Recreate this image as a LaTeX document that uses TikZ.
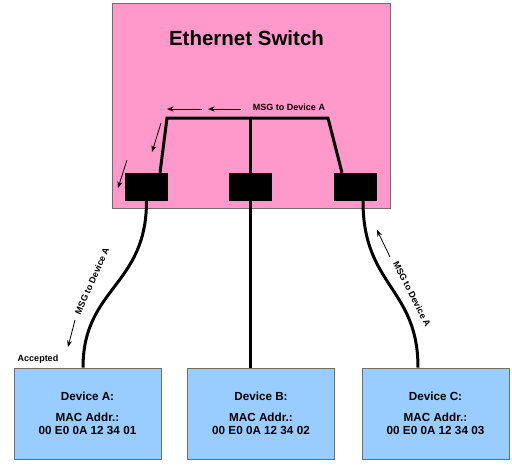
\documentclass[tikz,border=0pt]{standalone}
\usepackage{fontspec}
\setmainfont{Liberation Sans}
\usetikzlibrary{arrows.meta,positioning,calc}
\definecolor{swpink}{HTML}{FF99CC}
\definecolor{devblue}{HTML}{99CCFF}
\definecolor{edgegray}{HTML}{6E6E6E}
\tikzset{
  swbox/.style={
    rectangle, draw=edgegray, fill=swpink, line width=0.8pt,
    minimum width=278pt, minimum height=205pt, inner sep=0pt
  },
  swport/.style={rectangle, fill=black, minimum width=43pt, minimum height=28pt, inner sep=0pt},
  devbox/.style={
    rectangle, draw=edgegray, fill=devblue, line width=0.8pt,
    minimum width=147pt, minimum height=91pt, align=center,
    font=\fontsize{11.7}{13.5}\selectfont\bfseries
  },
  cable/.style={line width=3pt},
  msgarrow/.style={-{Stealth[length=6.5pt,width=5pt]},line width=0.8pt},
  msglabel/.style={font=\fontsize{9}{10}\selectfont\bfseries,inner sep=1pt}
}

\begin{document}
\begin{tikzpicture}[x=1pt,y=-1pt]
  \useasboundingbox (0,0) rectangle (512,466);

  % Ethernet switch
  \node[swbox] (sw) at (251,105.5) {};
  \node[font=\fontsize{20.5}{24}\selectfont\bfseries] (swtitle) at (246.5,38) {Ethernet Switch};
  \node[swport] (portA) at (146.5,187) {};
  \node[swport] (portB) at (250.5,187) {};
  \node[swport] (portC) at (355.5,187) {};

  % internal bus
  \coordinate (busL) at (167,118);
  \coordinate (busR) at (328,118);
  \coordinate (busM) at (portB.north |- busL);
  \draw[cable,line join=miter] ([xshift=13.5pt]portA.north) -- (busL) -- (busR) -- ([xshift=-13.5pt]portC.north);
  \draw[cable] (busM) -- (portB.north);

  \node[msglabel] (msgtop) at (289,107) {MSG to Device A};
  \draw[msgarrow] (202,109) -- (167,109);
  \draw[msgarrow] (241,109) -- (208,109);
  \draw[msgarrow] (161,123) -- (152,152);
  \draw[msgarrow] (127,160) -- (118,188);

  % Devices
  \node[devbox] (devA) at (87.5,413.5) {Device A:\\[7.5pt]MAC Addr.:\\00 E0 0A 12 34 01};
  \node[devbox] (devB) at (261,413.5) {Device B:\\[7.5pt]MAC Addr.:\\00 E0 0A 12 34 02};
  \node[devbox] (devC) at (435.5,413.5) {Device C:\\[7.5pt]MAC Addr.:\\00 E0 0A 12 34 03};

  % Cables
  \draw[cable] (portA.south) .. controls +(0,85) and +(0,-80) .. ([xshift=-4.5pt]devA.north);
  \draw[cable] (portB.south) -- (portB.south |- devB.north);
  \draw[cable] ([xshift=7.5pt]portC.south) .. controls +(0,85) and +(0,-80) .. ([xshift=-17.5pt]devC.north);

  \node[msglabel,rotate=66] (msgA) at (92,281) {MSG to Device A};
  \draw[msgarrow] (75,320) -- (68,347);
  \node[msglabel,rotate=-63] (msgC) at (412,294) {MSG to Device A};
  \draw[msgarrow] (390,257) -- (377,230);
  \node[msglabel] (acc) at (38,359) {Accepted};
\end{tikzpicture}
\end{document}
